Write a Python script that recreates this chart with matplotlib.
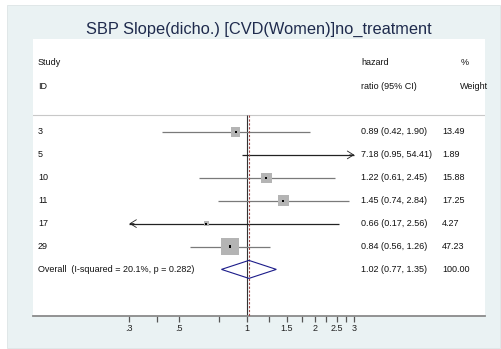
import numpy as np
import matplotlib
matplotlib.use("Agg")
import matplotlib.pyplot as plt
from matplotlib.patches import Rectangle, Polygon
import matplotlib.transforms as mtransforms

plt.rcParams['font.family'] = ['Liberation Sans', 'DejaVu Sans']

# data
studies = ['3', '5', '10', '11', '17', '29']
hr = [0.89, 7.18, 1.22, 1.45, 0.66, 0.84]
ci_lo = [0.42, 0.95, 0.61, 0.74, 0.17, 0.56]
ci_hi = [1.90, 54.41, 2.45, 2.84, 2.56, 1.26]
weights = [13.49, 1.89, 15.88, 17.25, 4.27, 47.23]
overall = [1.02, 0.77, 1.35]
i_squared = 20.1
p_het = 0.282
xmin_plot, xmax_plot = 0.3, 3.0
tick_labels = [0.3, 0.5, 1, 1.5, 2, 2.5, 3]
tick_minor = [0.4, 0.75, 1.25, 1.75, 2.25, 2.75]

W, H = 501, 349
fig = plt.figure(figsize=(W / 100, H / 100), dpi=100)
fig.patch.set_facecolor('white')

# outer light background
fig.patches.append(Rectangle((7 / W, 1 - 348 / H), 493 / W, 343 / H,
                             transform=fig.transFigure, facecolor='#eaf2f3',
                             edgecolor='#dde4e5', lw=0.6, zorder=-10))

ax = fig.add_axes([33 / W, 1 - 316 / H, 452 / W, 277 / H])
ax.set_facecolor('white')
ax.set_xscale('log')
# 225 px per decade, x=1 at pixel 247
ax.set_xlim(10 ** ((33 - 247) / 225), 10 ** ((485 - 247) / 225))
row_h = 22.9
ax.set_ylim((316 - 132) / row_h, (39 - 132) / row_h)

for s in ['top', 'left', 'right']:
    ax.spines[s].set_visible(False)
ax.spines['bottom'].set_color('#8a8a8a')
ax.spines['bottom'].set_linewidth(1.3)
ax.set_yticks([])
ax.set_xticks(tick_labels)
ax.set_xticklabels(['.3', '.5', '1', '1.5', '2', '2.5', '3'])
ax.set_xticks(tick_minor, minor=True)
ax.xaxis.set_minor_formatter(matplotlib.ticker.NullFormatter())
ax.tick_params(axis='x', which='both', direction='out', length=4, width=0.9,
               color='#555555', labelsize=6.5, pad=2, labelcolor='#222222')

trans = mtransforms.blended_transform_factory(ax.transAxes, ax.transData)
txt = dict(fontsize=6.5, color='#111111', va='center', transform=trans)

top_line = (115 - 132) / row_h
ybot = ax.get_ylim()[0]
ax.plot([0, 1], [top_line, top_line], transform=trans, color='#c8c8c8', lw=0.8)

# headers
ax.text(0.011, -3.05, 'Study', **txt)
ax.text(0.011, -2.0, 'ID', **txt)
ax.text(0.726, -3.05, 'hazard', **txt)
ax.text(0.726, -2.0, 'ratio (95% CI)', **txt)
ax.text(0.945, -3.05, '%', **txt)
ax.text(0.945, -2.0, 'Weight', **txt)

ax.vlines(1, top_line, ybot, color='#333333', lw=0.8, zorder=2)
ax.vlines(overall[0], top_line, ybot, color='#a04848', lw=0.8,
          linestyles=(0, (2, 1.5)), zorder=3)

arrow = dict(arrowstyle='->,head_length=0.45,head_width=0.28', lw=0.6,
             shrinkA=0, shrinkB=0)
wmax = max(weights)
for i, (name, e, lo, hi, w) in enumerate(zip(studies, hr, ci_lo, ci_hi, weights)):
    a = max(lo, xmin_plot)
    b = min(hi, xmax_plot)
    clipped = lo < xmin_plot or hi > xmax_plot
    col = '#222222' if clipped else '#7a7a7a'
    ax.plot([a, b], [i, i], color=col, lw=0.9, zorder=2, solid_capstyle='butt')
    if hi > xmax_plot:
        ax.annotate('', xy=(b, i), xytext=(b / 1.05, i),
                    arrowprops=dict(arrow, color=col))
    if lo < xmin_plot:
        ax.annotate('', xy=(a, i), xytext=(a * 1.05, i),
                    arrowprops=dict(arrow, color=col))
    if xmin_plot <= e <= xmax_plot:
        side = 17.7 * np.sqrt(w / wmax) * 0.72
        ax.scatter([e], [i], marker='s', s=side ** 2, color='#b4b4b4',
                   edgecolors='none', zorder=4)
        ax.scatter([e], [i], marker='s', s=2.2, color='black',
                   edgecolors='none', zorder=5)
    ax.text(0.011, i, name, **txt)
    ax.text(0.726, i, '%.2f (%.2f, %.2f)' % (e, lo, hi), **txt)
    ax.text(0.905, i, '%.2f' % w, **txt)

n = len(studies)
dh = 9 / row_h
ax.add_patch(Polygon([(overall[1], n), (overall[0], n - dh),
                      (overall[2], n), (overall[0], n + dh)],
                     closed=True, facecolor='none', edgecolor='#1c1c8a',
                     lw=0.8, zorder=6))
ax.text(0.011, n, 'Overall  (I-squared = %.1f%%, p = %.3f)' % (i_squared, p_het), **txt)
ax.text(0.726, n, '%.2f (%.2f, %.2f)' % tuple(overall), **txt)
ax.text(0.905, n, '100.00', **txt)

fig.text(259 / W, 1 - 29 / H, 'SBP Slope(dicho.) [CVD(Women)]no_treatment',
         ha='center', va='center', fontsize=11.8, color='#1f2b4d')

fig.savefig('out.png', dpi=100, facecolor=fig.get_facecolor())
